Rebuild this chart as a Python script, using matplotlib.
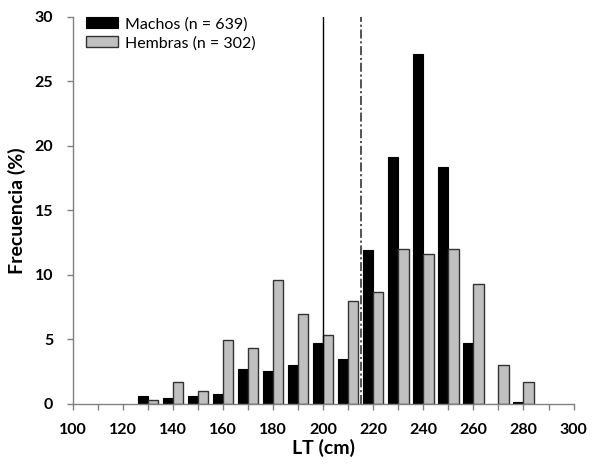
import matplotlib
matplotlib.use("Agg")
import matplotlib.pyplot as plt
import numpy as np

plt.rcParams['font.family'] = ['Lato', 'DejaVu Sans']

# size classes (cm) and frequency (%)
clases = [130, 140, 150, 160, 170, 180, 190, 200, 210, 220, 230, 240, 250, 260, 270, 280]
machos = [0.64, 0.49, 0.64, 0.80, 2.69, 2.53, 3.0, 4.74, 3.49, 11.94, 19.15, 27.13, 18.35, 4.75, 0.0, 0.16]
hembras = [0.33, 1.68, 1.0, 4.98, 4.31, 9.61, 6.98, 5.33, 7.98, 8.66, 11.99, 11.63, 11.99, 9.3, 3.0, 1.7]
lineas = [200, 215]

x = np.array(clases)
w = 4.1

fig = plt.figure(figsize=(5.98, 4.68), dpi=100)
ax = fig.add_axes([0.1216, 0.1368, 0.8375, 0.8269])

ax.bar(x - w/2, machos, width=w, color='black', edgecolor='black', linewidth=0.8,
       label='Machos (n = 639)')
ax.bar(x + w/2, hembras, width=w, color='#c0c0c0', edgecolor='#333333', linewidth=1.0,
       label='Hembras (n = 302)')

ax.plot([lineas[0], lineas[0]], [0, 30], color='black', lw=1.0)
ax.plot([lineas[1], lineas[1]], [0, 30], color='#444444', lw=1.3, dashes=(5, 1.5, 1.2, 1.5))

ax.set_xlim(100, 300)
ax.set_ylim(0, 30)
ax.set_xticks(np.arange(100, 301, 20))
ax.set_xticks(np.arange(110, 300, 20), minor=True)
ax.set_yticks(np.arange(0, 31, 5))

for s in ['top', 'right']:
    ax.spines[s].set_visible(False)
for s in ['left', 'bottom']:
    ax.spines[s].set_color('#808080')
    ax.spines[s].set_linewidth(1.0)

ax.tick_params(which='both', direction='out', length=4, color='#808080', width=1.0)
ax.tick_params(axis='x', which='major', labelsize=11.5, pad=10)
ax.tick_params(axis='y', labelsize=11.5, pad=10)
for lab in ax.get_xticklabels() + ax.get_yticklabels():
    lab.set_fontweight('bold')

ax.set_xlabel('LT (cm)', fontsize=14, fontweight='bold', labelpad=1)
ax.set_ylabel('Frecuencia (%)', fontsize=14, fontweight='bold', labelpad=6)

ax.legend(loc='upper left', bbox_to_anchor=(0.026, 1.0), frameon=False,
          fontsize=11.5, handlelength=2.0, handleheight=0.7, handletextpad=0.45,
          labelspacing=0.3, borderpad=0, borderaxespad=0)

fig.savefig('out.png', dpi=100)
